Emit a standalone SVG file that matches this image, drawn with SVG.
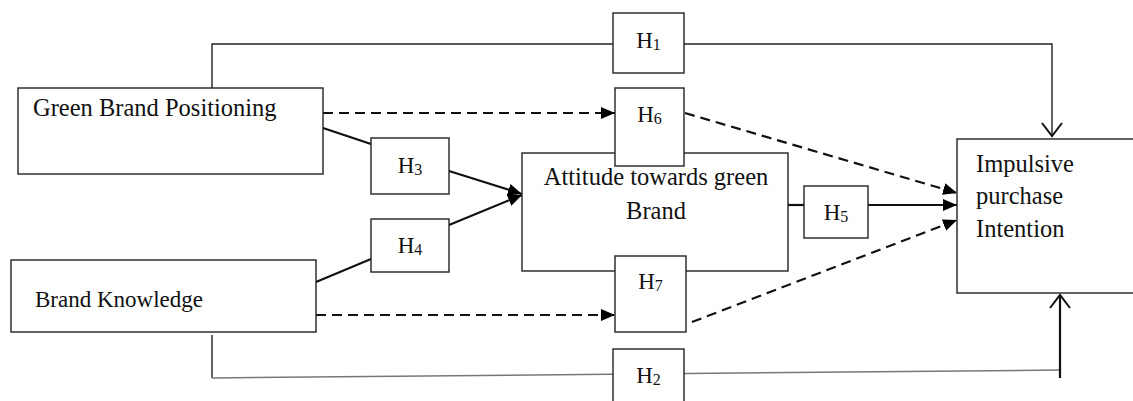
<svg xmlns="http://www.w3.org/2000/svg" width="1133" height="401" viewBox="0 0 1133 401">
<style>
.box{fill:#fff;stroke:#222;stroke-width:1.4}
.lbl{font-family:"Liberation Serif","Times New Roman",serif;font-size:24.5px;fill:#111}
.h{font-family:"Liberation Serif","Times New Roman",serif;font-size:23px;fill:#111;text-anchor:middle}
.sub{font-size:16px}
.thin{fill:none;stroke:#222;stroke-width:1.4}
.thick{fill:none;stroke:#111;stroke-width:2.2}
.dash{fill:none;stroke:#111;stroke-width:2.2;stroke-dasharray:10 6}
.grey{fill:none;stroke:#777;stroke-width:1.5}
</style>
<defs>
<marker id="arrF" markerWidth="15" markerHeight="14" refX="14" refY="7" orient="auto" markerUnits="userSpaceOnUse">
<path d="M0,1 L14,7 L0,13 z" fill="#000"/>
</marker>
<marker id="arrO" markerWidth="16" markerHeight="22" refX="14" refY="11" orient="auto" markerUnits="userSpaceOnUse">
<path d="M1,1 L14,11 L1,21" fill="none" stroke="#111" stroke-width="2"/>
</marker>
</defs>
<rect width="1133" height="401" fill="#fff"/>
<g id="connectors">
<path class="thin" d="M212,88 V44 H1052 V136" marker-end="url(#arrO)"/>
<path class="thin" d="M212,335 V378"/>
<path class="grey" d="M212,378 L1060,370"/>
<path class="thick" d="M1060,378 V295" marker-end="url(#arrO)"/>
<path class="dash" d="M323,113 H615" marker-end="url(#arrF)"/>
<path class="dash" d="M316,315 H615" marker-end="url(#arrF)"/>
<path class="dash" d="M685,113 L957,193" marker-end="url(#arrF)"/>
<path class="dash" d="M692,322 L957,220" marker-end="url(#arrF)"/>
<path class="thick" d="M323,128 L371,144"/>
<path class="thick" d="M449,171 L522,194" marker-end="url(#arrF)"/>
<path class="thick" d="M316,282 L371,259"/>
<path class="thick" d="M449,225 L522,195" marker-end="url(#arrF)"/>
<path class="thick" d="M788,205 H804"/>
<path class="thick" d="M868,205 H957" marker-end="url(#arrF)"/>
</g>
<g id="gbp">
<rect class="box" x="18" y="88" width="305" height="86"/>
<text class="lbl" x="33" y="116">Green Brand Positioning</text>
</g>
<g id="bk">
<rect class="box" x="11" y="260" width="305" height="72"/>
<text class="lbl" x="35" y="307" style="font-size:23px">Brand Knowledge</text>
</g>
<g id="attitude">
<rect class="box" x="522" y="153" width="266" height="118"/>
<text class="lbl" x="656" y="185" text-anchor="middle">Attitude towards green</text>
<text class="lbl" x="656" y="219" text-anchor="middle">Brand</text>
</g>
<g id="impulsive">
<rect class="box" x="957" y="139" width="190" height="154"/>
<text class="lbl" x="976" y="172">Impulsive</text>
<text class="lbl" x="976" y="204">purchase</text>
<text class="lbl" x="976" y="237">Intention</text>
</g>
<g id="h1">
<rect class="box" x="613" y="13" width="71" height="60"/>
<text class="h" x="648.5" y="48">H<tspan class="sub" dy="2">1</tspan></text>
</g>
<g id="h6">
<rect class="box" x="615" y="88" width="69" height="78"/>
<text class="h" x="649.5" y="122">H<tspan class="sub" dy="2">6</tspan></text>
</g>
<g id="h3">
<rect class="box" x="371" y="138" width="78" height="56"/>
<text class="h" x="410" y="173">H<tspan class="sub" dy="2">3</tspan></text>
</g>
<g id="h4">
<rect class="box" x="371" y="219" width="78" height="53"/>
<text class="h" x="410" y="253">H<tspan class="sub" dy="2">4</tspan></text>
</g>
<g id="h5">
<rect class="box" x="804" y="186" width="64" height="52"/>
<text class="h" x="836" y="220">H<tspan class="sub" dy="2">5</tspan></text>
</g>
<g id="h7">
<rect class="box" x="615" y="256" width="71" height="76"/>
<text class="h" x="650.5" y="289">H<tspan class="sub" dy="2">7</tspan></text>
</g>
<g id="h2">
<rect class="box" x="613" y="349" width="71" height="60"/>
<text class="h" x="648.5" y="383">H<tspan class="sub" dy="2">2</tspan></text>
</g>
</svg>
